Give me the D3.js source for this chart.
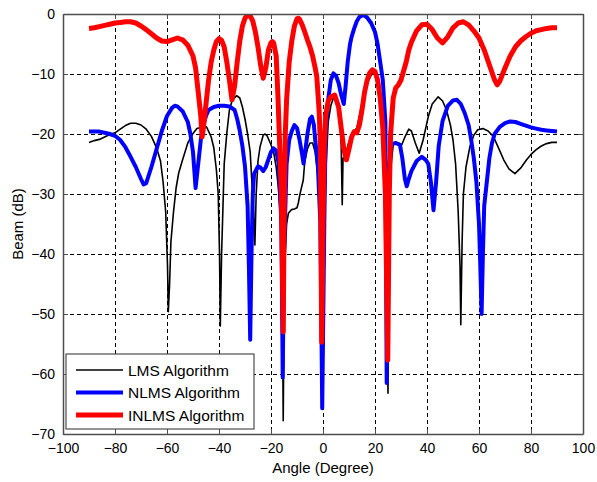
<!DOCTYPE html>
<html>
<head>
<meta charset="utf-8">
<script src="https://cdn.jsdelivr.net/npm/d3@7"></script>
<style>
  body { margin: 0; background: #fff; }
  text { font-family: Arial, "Liberation Sans", sans-serif; fill: #000; }
</style>
</head>
<body>
<div id="beam-chart"></div>
<script>
// =============================================
// DATA
// =============================================
const xTicks = [-100, -80, -60, -40, -20, 0, 20, 40, 60, 80, 100];
const yTicks = [-70, -60, -50, -40, -30, -20, -10, 0];

const seriesNames = ["LMS Algorithm", "NLMS Algorithm", "INLMS Algorithm"];
const seriesColors = ["#000000", "#0000ff", "#ff0000"];

const lmsAngle = [-90,-88,-86,-84,-82,-80,-78,-76,-74,-72,-70,-68,-66,-64,-62.5,-61.5,-60.5,-59.8,-59.5,-59,-58.5,-57.5,-56.5,-55.5,-54,-52,-50,-48.5,-46,-44.8,-43,-42,-41,-40.3,-39.8,-39.5,-39,-38,-37,-36,-35,-33.2,-32,-31,-30,-29,-28,-27.4,-26.8,-26.2,-25.7,-25,-24.2,-23,-22.3,-21.5,-20,-19,-18,-17.2,-16.5,-16,-15.5,-15.3,-15,-14.5,-14,-13.3,-12.1,-11,-10,-9.5,-8.8,-7.6,-7,-6,-5,-4,-3,-2,-1,-0.5,0,0.5,1,2,3,4,4.6,5.5,6.5,7,7.4,7.7,8.5,9.5,11,13,15,17,19,20,21,22,23,24,24.6,25,25.3,26,27,28,29,30.3,31.5,33,34,35.5,37,38.5,40.5,42,44.3,46,47.5,49,50,51,52,52.7,53,53.5,54,55,56.5,58,59.5,61.5,63.5,65.5,67.5,69.5,71.5,73.8,76,78.3,80,82,84,86,88,90];
const lmsBeam = [-21.4,-21.1,-20.9,-20.5,-20.1,-19.8,-19.2,-18.6,-18.2,-18.2,-18.5,-19.2,-20.4,-22.3,-24.5,-28,-33,-42,-49.6,-45,-38,-33,-29,-26.5,-24.3,-21.5,-19.9,-19.1,-18.8,-18.8,-20.5,-22.3,-26,-30,-40,-52,-40,-25,-19.9,-16,-14.5,-13.6,-14,-15.5,-17.5,-20,-23,-27.7,-32,-38.5,-30,-24.5,-22.1,-20.2,-20,-20.3,-21.8,-23,-25.5,-28.8,-33,-40,-55,-67.8,-50,-40,-35,-33.2,-32.6,-32.5,-32.3,-31.5,-29.9,-27.7,-24.5,-22.5,-21.5,-21.5,-23,-27,-34,-45,-55,-40,-27,-18,-15.3,-14,-13.8,-14.5,-16.5,-22,-31.8,-24,-24,-22,-20,-19,-15,-11.5,-9.8,-10,-11.5,-14.5,-20,-30,-45,-63.2,-40,-26,-21.8,-21.4,-21.5,-21.8,-20.5,-19.2,-19.5,-21.5,-23.2,-21,-17.1,-15,-13.8,-14.5,-16,-18.5,-21,-25,-33,-42,-51.8,-38,-30,-25.5,-22.1,-20.2,-19.3,-19.1,-19.5,-20.4,-22.3,-24.3,-25.8,-26.6,-25.7,-24.3,-23.4,-22.6,-22,-21.6,-21.4,-21.4];

const nlmsAngle = [-90,-88,-86,-84,-82,-80,-78,-76,-74,-72,-70,-69,-68,-66,-64,-62,-60,-58,-57,-56,-54,-52,-51,-50,-49,-48,-47,-46,-45,-44,-42,-40,-38,-36,-34,-33,-32,-31,-30,-29,-28.5,-28,-27.5,-27,-26.5,-25,-24,-23,-22,-20,-19,-18,-17,-16,-15.5,-15,-14,-13,-12,-11,-10,-9,-8,-7.5,-7,-6,-5,-4.3,-3.5,-3,-2,-1,-0.3,0.5,1,2,3,4,5,6,7,8,8.7,9.5,10.4,11,12,13,14,15.5,17,18.5,19.5,20,21,22,23,24,24.5,25,26,27,28,29.6,30.5,31.5,32.2,33,34,36,38,39.5,40.5,41.5,42.5,43.5,44.5,46,48,50,51.5,53,54.5,56,57,58,59,60,60.5,61,61.5,62,63,64,65,66,68,70,72,74,76,78,80,82,84,86,88,90];
const nlmsBeam = [-19.6,-19.6,-19.6,-19.8,-20,-20.3,-21,-22.2,-23.8,-25.5,-27.5,-28.4,-28.2,-25.5,-22.5,-19.5,-17,-15.6,-15.3,-15.4,-16.2,-18,-20,-23,-29,-25,-21,-18.5,-17,-16,-15.5,-15.3,-15.3,-15.4,-16,-17.5,-19.5,-22,-25.4,-32,-42,-54.3,-40,-30,-26.6,-25.4,-25.6,-26.2,-25.5,-23,-22.4,-22.8,-25,-35,-60.6,-40,-25,-21,-19.5,-18.5,-19,-21,-23.5,-24.9,-23.5,-20,-17.5,-17.1,-18.5,-21,-25,-35,-65.7,-35,-20,-14.3,-11,-9.9,-10.3,-11.5,-13.5,-15,-12,-8,-5,-3.8,-2.4,-1.2,-0.5,-0.1,-0.6,-1.5,-2.5,-3,-5,-8,-11,-18,-61.5,-30,-22,-21.6,-21.5,-21.8,-24,-27.5,-28.7,-27.5,-26.2,-24.5,-23.8,-24.3,-25,-28,-32.7,-28,-22,-17.8,-15.3,-14.4,-14.3,-15,-16.5,-18.5,-21,-24,-28,-35,-42,-50,-40,-32,-28,-24,-21.5,-20,-18.8,-18.2,-17.9,-18,-18.3,-18.6,-18.9,-19.1,-19.3,-19.4,-19.5,-19.6];

const inlmsAngle = [-90,-88,-86,-84,-82,-80,-78,-76,-74,-72,-70,-68,-66,-64,-62,-60,-58,-56,-54,-52,-50,-49,-48,-47,-46.5,-46,-45,-44,-43,-42,-41,-40,-39,-38,-37,-36,-35,-34,-33,-32,-31,-30,-29,-28,-27,-26,-25,-24,-23,-22,-21,-20,-19.5,-19,-18,-17.3,-16,-15.3,-15,-14.5,-14,-13,-12,-11,-10,-9.5,-9,-8,-7,-6,-5,-4,-3,-2.4,-1.5,-1,-0.5,0,0.5,1,2,3,4.5,6,7,8,9,10,11,12,13,14,15,16,17,18,19,20,21,22,23,24,24.9,25.5,26,27,28,29,30,31,32,33,34,36,38,40,42,44,46,48,50,52,54,56,58,60,62,64,66,67,68,70,72,74,76,78,80,82,84,86,88,90];
const inlmsBeam = [-2.4,-2.3,-2.1,-1.9,-1.7,-1.5,-1.4,-1.3,-1.3,-1.5,-2,-2.6,-3.3,-4,-4.5,-4.6,-4.3,-4,-4.3,-5.2,-7,-9,-13,-17,-20.5,-19,-15,-11,-8,-6,-4.6,-4.1,-4.4,-5.5,-8,-11,-14.3,-12,-8,-4.5,-2,-0.7,-0.2,-0.3,-1.2,-3,-5.5,-8.5,-10.7,-9,-6,-4.8,-4.6,-4.8,-7,-14,-30,-53,-35,-20,-14.3,-8,-4.5,-2,-0.8,-0.7,-0.9,-1.8,-3,-4.3,-5.5,-7,-9,-10.4,-16,-22,-54.7,-35,-22,-17,-14.5,-13.8,-13.5,-15.5,-19,-22.5,-24.3,-22.5,-20.5,-19.6,-19.8,-18.5,-16,-13,-11,-9.8,-9.3,-9.6,-11,-14,-19,-30,-57.7,-30,-20,-14,-12.3,-11.8,-11,-9.5,-8,-6,-4.7,-2.8,-1.8,-1.7,-2.6,-4,-4.8,-3.8,-2.3,-1.5,-1.3,-1.8,-2.8,-4,-6,-8.5,-11,-11.8,-11.2,-9,-7,-5.5,-4.5,-3.8,-3.2,-2.8,-2.6,-2.4,-2.3,-2.3];

// =============================================
// SETUP
// =============================================
const W = 597, H = 482;
const margin = { top: 14, right: 14, bottom: 48, left: 63 };
const width = W - margin.left - margin.right;
const height = H - margin.top - margin.bottom;
const axisColor = "#4d4d4d";

const svg = d3.select("#beam-chart").append("svg")
  .attr("width", W)
  .attr("height", H);

const g = svg.append("g")
  .attr("transform", `translate(${margin.left},${margin.top})`);

const x = d3.scaleLinear().domain([-100, 100]).range([0, width]);
const y = d3.scaleLinear().domain([-70, 0]).range([height, 0]);

// clip so the thick lines stay inside the box
svg.append("defs").append("clipPath")
  .attr("id", "plot-clip")
  .append("rect")
  .attr("width", width)
  .attr("height", height);

// =============================================
// GRID
// =============================================
g.append("g").selectAll("line")
  .data(xTicks.slice(1, -1))
  .join("line")
  .attr("x1", d => x(d)).attr("x2", d => x(d))
  .attr("y1", 0).attr("y2", height)
  .attr("stroke", "#000")
  .attr("stroke-dasharray", "4,3")
  .attr("shape-rendering", "crispEdges");

g.append("g").selectAll("line")
  .data(yTicks.slice(1, -1))
  .join("line")
  .attr("y1", d => y(d)).attr("y2", d => y(d))
  .attr("x1", 0).attr("x2", width)
  .attr("stroke", "#000")
  .attr("stroke-dasharray", "4,3")
  .attr("shape-rendering", "crispEdges");

// =============================================
// LINES
// =============================================
const series = [
  { name: seriesNames[0], angle: lmsAngle, beam: lmsBeam, color: seriesColors[0], w: 1.6 },
  { name: seriesNames[1], angle: nlmsAngle, beam: nlmsBeam, color: seriesColors[1], w: 4 },
  { name: seriesNames[2], angle: inlmsAngle, beam: inlmsBeam, color: seriesColors[2], w: 5 }
];

const line = d3.line()
  .x(d => x(d[0]))
  .y(d => y(d[1]));

const lineG = g.append("g").attr("clip-path", "url(#plot-clip)");

series.forEach(s => {
  lineG.append("path")
    .datum(s.angle.map((a, i) => [a, s.beam[i]]))
    .attr("fill", "none")
    .attr("stroke", s.color)
    .attr("stroke-width", s.w)
    .attr("stroke-linejoin", "round")
    .attr("d", line);
});

// =============================================
// AXES (box with inward ticks)
// =============================================
const tickLen = 5;
const xAxisB = d3.axisBottom(x).tickValues(xTicks).tickSizeInner(-tickLen).tickSizeOuter(0).tickPadding(9);
const xAxisT = d3.axisTop(x).tickValues(xTicks).tickSizeInner(-tickLen).tickSizeOuter(0).tickFormat("");
const yAxisL = d3.axisLeft(y).tickValues(yTicks).tickSizeInner(-tickLen).tickSizeOuter(0).tickPadding(8);
const yAxisR = d3.axisRight(y).tickValues(yTicks).tickSizeInner(-tickLen).tickSizeOuter(0).tickFormat("");

function styleAxis(sel) {
  sel.select(".domain").attr("stroke", axisColor).attr("stroke-width", 1.5);
  sel.selectAll(".tick line").attr("stroke", axisColor);
  sel.selectAll(".tick text")
    .attr("font-size", 14)
    .attr("font-family", "Arial, 'Liberation Sans', sans-serif")
    .attr("fill", "#000");
}

g.append("g").attr("transform", `translate(0,${height})`).call(xAxisB).call(styleAxis);
g.append("g").call(xAxisT).call(styleAxis);
g.append("g").call(yAxisL).call(styleAxis);
g.append("g").attr("transform", `translate(${width},0)`).call(yAxisR).call(styleAxis);

// axis titles
svg.append("text")
  .attr("x", margin.left + width / 2)
  .attr("y", 473)
  .attr("text-anchor", "middle")
  .attr("font-size", 15)
  .text("Angle (Degree)");

svg.append("text")
  .attr("transform", `translate(23,${margin.top + height / 2}) rotate(-90)`)
  .attr("text-anchor", "middle")
  .attr("font-size", 15)
  .text("Beam (dB)");

// =============================================
// LEGEND
// =============================================
const legend = svg.append("g").attr("transform", "translate(66,354)");

legend.append("rect")
  .attr("width", 188)
  .attr("height", 75)
  .attr("fill", "#fff")
  .attr("stroke", axisColor)
  .attr("stroke-width", 1.2);

series.forEach((s, i) => {
  const ly = 16 + i * 22.5;
  legend.append("line")
    .attr("x1", 10).attr("x2", 57)
    .attr("y1", ly).attr("y2", ly)
    .attr("stroke", s.color)
    .attr("stroke-width", s.w);
  legend.append("text")
    .attr("x", 62)
    .attr("y", ly + 5.5)
    .attr("font-size", 15.5)
    .text(s.name);
});
</script>
</body>
</html>
